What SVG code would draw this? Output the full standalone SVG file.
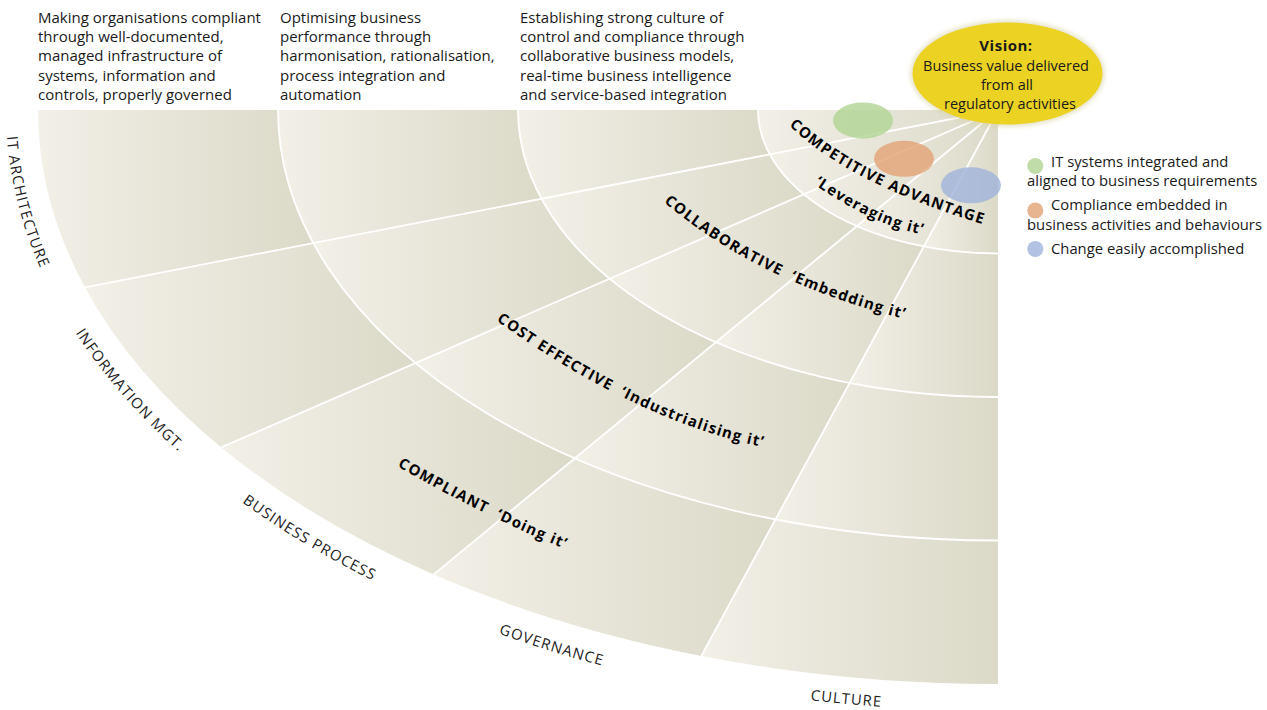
<svg xmlns="http://www.w3.org/2000/svg" width="1267" height="710" viewBox="0 0 1267 710">
  <defs>
    <!-- each cell shades light on its left edge to darker tan on its right edge -->
    <linearGradient id="cellFill" x1="0" y1="0" x2="1" y2="0">
      <stop offset="0" stop-color="#f2f0e7"/>
      <stop offset="1" stop-color="#dbd9c7"/>
    </linearGradient>
    <filter id="soft" x="-20%" y="-30%" width="140%" height="160%">
      <feGaussianBlur stdDeviation="2.5"/>
    </filter>
    <!-- baselines for the perspective labels -->
    <path id="axIT" d="M12.38,41.40 A992,606 0 0 0 88.28,351.64"/>
    <path id="axInfo" d="M28.40,238.06 A992,606 0 0 0 263.13,517.06"/>
    <path id="axProc" d="M138.03,412.08 A992,606 0 0 0 500.50,634.28"/>
    <path id="axGov" d="M329.09,557.51 A992,606 0 0 0 784.98,701.86"/>
    <path id="axCult" d="M594.51,659.10 A992,601 0 0 0 1101.69,707.70"/>
    <!-- baselines for the maturity stage labels -->
    <path id="stComp" d="M767.8,103.8 L789,125 Q846.5,182.5 984,224.5 L1012.7,233.3"/>
    <path id="stLev" d="M785.5,164.2 L810,181.5 Q874,226.5 928,235.5 L957.6,240.6"/>
    <path id="stColl" d="M639.3,180.6 L662,200.3 Q756,282 907.6,319.8 L936.7,327.1"/>
    <path id="stCost" d="M472.6,303.5 L497,321 Q635.5,420 762.7,447 L792,453.2"/>
    <path id="stCompl" d="M369,450 L395,465 Q485.5,517 567.6,550 L595.4,561.2"/>
  </defs>
  <style>
    .cell { fill: url(#cellFill); }
    .grid { fill: none; stroke: #ffffff; stroke-width: 1.8; }
    .txt { font-family: "Open Sans", "Noto Sans", sans-serif; fill: #1a1a1a; }
    .desc { font-size: 15px; }
    .legend { font-size: 14.8px; }
    .axis { font-size: 14.8px; letter-spacing: 1.1px; fill: #222; }
    .stage { font-size: 15px; font-weight: 700; letter-spacing: 1.2px; fill: #000; }
    .green { fill: #b0d494; opacity: 0.8; }
    .orange { fill: #e2a375; opacity: 0.8; }
    .blue { fill: #9fb3db; opacity: 0.8; }
  </style>

  <rect width="1267" height="710" fill="#ffffff"/>

  <!-- header descriptions -->
  <g id="desc-compliant" class="txt desc">
    <text x="38" y="23">Making organisations compliant</text>
    <text x="38" y="42.2">through well-documented,</text>
    <text x="38" y="61.4">managed infrastructure of</text>
    <text x="38" y="80.6">systems, information and</text>
    <text x="38" y="99.8">controls, properly governed</text>
  </g>
  <g id="desc-cost" class="txt desc">
    <text x="280" y="23">Optimising business</text>
    <text x="280" y="42.2">performance through</text>
    <text x="280" y="61.4">harmonisation, rationalisation,</text>
    <text x="280" y="80.6">process integration and</text>
    <text x="280" y="99.8">automation</text>
  </g>
  <g id="desc-collab" class="txt desc">
    <text x="520" y="23">Establishing strong culture of</text>
    <text x="520" y="42.2">control and compliance through</text>
    <text x="520" y="61.4">collaborative business models,</text>
    <text x="520" y="80.6">real-time business intelligence</text>
    <text x="520" y="99.8">and service-based integration</text>
  </g>

  <!-- ring: compliant (outermost) -->
  <g id="ring-compliant">
    <path class="cell" d="M38,110 A960,574 0 0 0 85.0,287.4 L313.24,243.0 A720,430.5 0 0 1 278,110 Z"/>
    <path class="cell" d="M85.0,287.4 A960,574 0 0 0 221.3,447.4 L415.51,363.0 A720,430.5 0 0 1 313.24,243.0 Z"/>
    <path class="cell" d="M221.3,447.4 A960,574 0 0 0 433.7,574.4 L574.79,458.3 A720,430.5 0 0 1 415.51,363.0 Z"/>
    <path class="cell" d="M433.7,574.4 A960,574 0 0 0 701.3,655.9 L775.51,519.4 A720,430.5 0 0 1 574.79,458.3 Z"/>
    <path class="cell" d="M701.3,655.9 A960,574 0 0 0 998,684 L998,540.5 A720,430.5 0 0 1 775.51,519.4 Z"/>
  </g>
  <!-- ring: cost effective -->
  <g id="ring-cost">
    <path class="cell" d="M278,110 A720,430.5 0 0 0 313.24,243.0 L541.49,198.7 A480,287 0 0 1 518,110 Z"/>
    <path class="cell" d="M313.24,243.0 A720,430.5 0 0 0 415.51,363.0 L609.67,278.7 A480,287 0 0 1 541.49,198.7 Z"/>
    <path class="cell" d="M415.51,363.0 A720,430.5 0 0 0 574.79,458.3 L715.86,342.2 A480,287 0 0 1 609.67,278.7 Z"/>
    <path class="cell" d="M574.79,458.3 A720,430.5 0 0 0 775.51,519.4 L849.67,383.0 A480,287 0 0 1 715.86,342.2 Z"/>
    <path class="cell" d="M775.51,519.4 A720,430.5 0 0 0 998,540.5 L998,397 A480,287 0 0 1 849.67,383.0 Z"/>
  </g>
  <!-- ring: collaborative -->
  <g id="ring-collab">
    <path class="cell" d="M518,110 A480,287 0 0 0 541.49,198.7 L769.75,154.3 A240,143.5 0 0 1 758,110 Z"/>
    <path class="cell" d="M541.49,198.7 A480,287 0 0 0 609.67,278.7 L803.84,194.3 A240,143.5 0 0 1 769.75,154.3 Z"/>
    <path class="cell" d="M609.67,278.7 A480,287 0 0 0 715.86,342.2 L856.93,226.1 A240,143.5 0 0 1 803.84,194.3 Z"/>
    <path class="cell" d="M715.86,342.2 A480,287 0 0 0 849.67,383.0 L923.84,246.5 A240,143.5 0 0 1 856.93,226.1 Z"/>
    <path class="cell" d="M849.67,383.0 A480,287 0 0 0 998,397 L998,253.5 A240,143.5 0 0 1 923.84,246.5 Z"/>
  </g>
  <!-- ring: competitive advantage (core) -->
  <g id="ring-competitive">
    <path class="cell" d="M758,110 A240,143.5 0 0 0 769.75,154.3 L998,110 Z"/>
    <path class="cell" d="M769.75,154.3 A240,143.5 0 0 0 803.84,194.3 L998,110 Z"/>
    <path class="cell" d="M803.84,194.3 A240,143.5 0 0 0 856.93,226.1 L998,110 Z"/>
    <path class="cell" d="M856.93,226.1 A240,143.5 0 0 0 923.84,246.5 L998,110 Z"/>
    <path class="cell" d="M923.84,246.5 A240,143.5 0 0 0 998,253.5 L998,110 Z"/>
  </g>

  <!-- white ring boundaries and sector spokes -->
  <g id="connectors" class="grid">
    <path d="M758,110 A240,143.5 0 0 0 998,253.5"/>
    <path d="M518,110 A480,287 0 0 0 998,397"/>
    <path d="M278,110 A720,430.5 0 0 0 998,540.5"/>
    <path d="M998,110 L85.0,287.4"/>
    <path d="M998,110 L221.3,447.4"/>
    <path d="M998,110 L433.7,574.4"/>
    <path d="M998,110 L701.3,655.9"/>
  </g>

  <!-- perspective labels around the rim -->
  <g id="axis-labels" class="txt axis">
    <text><textPath href="#axIT" startOffset="50%" text-anchor="middle">IT ARCHITECTURE</textPath></text>
    <text><textPath href="#axInfo" startOffset="50%" text-anchor="middle">INFORMATION MGT.</textPath></text>
    <text><textPath href="#axProc" startOffset="50%" text-anchor="middle">BUSINESS PROCESS</textPath></text>
    <text><textPath href="#axGov" startOffset="50%" text-anchor="middle">GOVERNANCE</textPath></text>
    <text><textPath href="#axCult" startOffset="50%" text-anchor="middle">CULTURE</textPath></text>
  </g>

  <!-- maturity stage labels -->
  <g id="stage-labels" class="txt stage">
    <text><textPath href="#stComp" startOffset="50%" text-anchor="middle">COMPETITIVE ADVANTAGE</textPath></text>
    <text><textPath href="#stLev" startOffset="50%" text-anchor="middle">‘Leveraging it’</textPath></text>
    <text><textPath href="#stColl" startOffset="50%" text-anchor="middle">COLLABORATIVE&#160; ‘Embedding it’</textPath></text>
    <text><textPath href="#stCost" startOffset="50%" text-anchor="middle">COST EFFECTIVE&#160; ‘Industrialising it’</textPath></text>
    <text><textPath href="#stCompl" startOffset="50%" text-anchor="middle">COMPLIANT&#160; ‘Doing it’</textPath></text>
  </g>

  <!-- outcome markers -->
  <g id="markers">
    <ellipse class="green" cx="863" cy="120.5" rx="30" ry="18"/>
    <ellipse class="orange" cx="904" cy="158.8" rx="30" ry="18"/>
    <ellipse class="blue" cx="971" cy="185.3" rx="30" ry="18"/>
  </g>

  <!-- vision -->
  <g id="vision">
    <ellipse cx="1007.5" cy="73.5" rx="97" ry="53" fill="#d9d3a8" opacity="0.7" filter="url(#soft)"/>
    <ellipse cx="1007.5" cy="73.5" rx="95" ry="51" fill="#ebd223"/>
    <text class="txt" x="1006" y="51" text-anchor="middle" font-size="15" font-weight="700" letter-spacing="0.5" fill="#000">Vision:</text>
    <text class="txt" x="1006" y="71" text-anchor="middle" font-size="14.5" fill="#111">Business value delivered</text>
    <text class="txt" x="1007" y="90" text-anchor="middle" font-size="14.5" fill="#111">from all</text>
    <text class="txt" x="1010" y="108.5" text-anchor="middle" font-size="14.5" fill="#111">regulatory activities</text>
  </g>

  <!-- legend -->
  <g id="legend" class="txt legend">
    <circle class="green" cx="1035.3" cy="166" r="8"/>
    <text x="1051" y="167">IT systems integrated and</text>
    <text x="1027" y="186">aligned to business requirements</text>
    <circle class="orange" cx="1035.3" cy="210.5" r="8"/>
    <text x="1051" y="209.5">Compliance embedded in</text>
    <text x="1027" y="229.5">business activities and behaviours</text>
    <circle class="blue" cx="1035.3" cy="249" r="8"/>
    <text x="1051" y="253.5">Change easily accomplished</text>
  </g>
</svg>
